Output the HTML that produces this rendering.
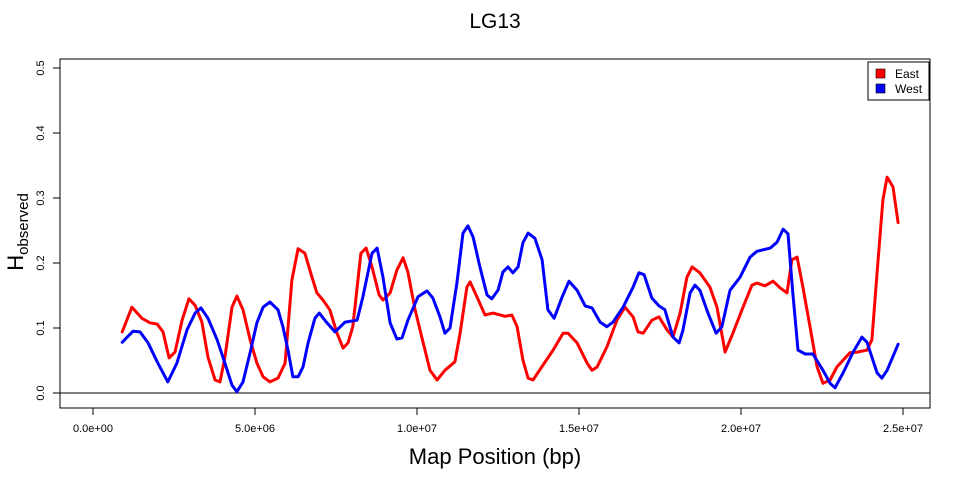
<!DOCTYPE html>
<html><head><meta charset="utf-8"><style>
body{margin:0;background:#fff;}
svg text{font-family:"Liberation Sans",Arial,sans-serif;}
</style></head><body>
<svg id="chart" width="960" height="480" viewBox="0 0 960 480" xmlns="http://www.w3.org/2000/svg">
<rect width="960" height="480" fill="#fff"/>
<text x="495" y="28" font-size="21" text-anchor="middle">LG13</text>
<rect x="60" y="59" width="870" height="349" fill="none" stroke="#000" stroke-width="1"/>
<g id="axes"></g>
<g id="series"></g>
<text x="495" y="464" font-size="22" text-anchor="middle">Map Position (bp)</text>
<text transform="translate(23,232) rotate(-90)" font-size="22" text-anchor="middle">H<tspan font-size="15" dy="5">observed</tspan></text>
<g>
<rect x="868" y="62" width="61" height="38" fill="#fff" stroke="#000" stroke-width="1"/>
<rect x="876" y="69" width="9" height="9" fill="#ff0000" stroke="#000" stroke-width="0.6"/>
<text x="895" y="78" font-size="12">East</text>
<rect x="876" y="84" width="9" height="9" fill="#0000ff" stroke="#000" stroke-width="0.6"/>
<text x="895" y="93" font-size="12">West</text>
</g>
</svg>
<script>
const xTicks=[0,5e6,1e7,1.5e7,2e7,2.5e7];
const xTickLabels=["0.0e+00","5.0e+06","1.0e+07","1.5e+07","2.0e+07","2.5e+07"];
const yTicks=[0,0.1,0.2,0.3,0.4,0.5];
const yTickLabels=["0.0","0.1","0.2","0.3","0.4","0.5"];
const eastPos=[.90,1.20,1.51,1.76,1.98,2.16,2.35,2.53,2.75,2.96,3.15,3.36,3.55,3.77,3.92,4.07,4.29,4.44,4.63,4.85,5.06,5.25,5.46,5.71,5.93,6.14,6.33,6.54,6.76,6.91,7.10,7.31,7.53,7.72,7.87,8.02,8.27,8.43,8.61,8.83,8.95,9.17,9.38,9.57,9.72,9.94,10.19,10.40,10.62,10.86,11.17,11.33,11.54,11.64,11.85,12.10,12.35,12.72,12.93,13.09,13.27,13.43,13.58,13.89,14.20,14.51,14.66,14.94,15.25,15.40,15.56,15.86,16.17,16.42,16.67,16.82,16.98,17.25,17.47,17.72,17.90,18.12,18.33,18.49,18.73,19.04,19.26,19.51,19.75,20.03,20.34,20.49,20.74,20.99,21.20,21.42,21.57,21.73,21.91,22.13,22.35,22.53,22.75,22.96,23.36,23.58,23.89,24.04,24.23,24.38,24.51,24.69,24.85];
const eastH=[.094,.132,.115,.108,.106,.094,.054,.063,.112,.145,.135,.109,.055,.020,.017,.055,.132,.149,.128,.082,.046,.025,.017,.023,.046,.174,.222,.215,.178,.154,.143,.128,.092,.069,.077,.102,.215,.223,.194,.151,.143,.154,.189,.208,.186,.128,.077,.035,.020,.035,.048,.092,.163,.171,.148,.120,.123,.118,.120,.102,.051,.023,.020,.043,.066,.092,.092,.077,.046,.035,.040,.071,.112,.132,.117,.094,.092,.112,.117,.097,.086,.123,.178,.194,.185,.163,.132,.063,.092,.128,.166,.169,.165,.172,.162,.154,.205,.209,.163,.102,.040,.015,.020,.040,.062,.063,.066,.082,.205,.297,.332,.317,.262];
const westPos=[.90,1.23,1.45,1.70,1.98,2.31,2.59,2.90,3.15,3.33,3.55,3.83,4.07,4.29,4.44,4.63,4.85,5.06,5.25,5.46,5.71,5.86,6.02,6.17,6.33,6.48,6.64,6.85,6.98,7.22,7.47,7.78,8.15,8.33,8.61,8.77,8.95,9.17,9.38,9.54,9.72,10.03,10.31,10.49,10.71,10.86,11.02,11.23,11.42,11.57,11.73,11.94,12.16,12.31,12.50,12.65,12.81,12.96,13.12,13.27,13.43,13.64,13.86,14.04,14.23,14.48,14.69,14.94,15.19,15.40,15.65,15.86,16.05,16.36,16.67,16.85,17.01,17.25,17.47,17.65,17.90,18.09,18.21,18.43,18.58,18.73,18.98,19.23,19.41,19.66,19.97,20.28,20.49,20.90,21.11,21.30,21.45,21.60,21.76,21.98,22.22,22.53,22.75,22.90,23.15,23.46,23.73,23.89,24.20,24.35,24.51,24.85];
const westH=[.078,.095,.094,.077,.048,.017,.046,.097,.123,.131,.115,.082,.046,.012,.002,.017,.062,.108,.132,.140,.128,.102,.066,.025,.025,.040,.077,.115,.123,.108,.094,.109,.112,.148,.215,.223,.178,.108,.083,.085,.112,.148,.157,.146,.117,.092,.100,.169,.246,.257,.240,.194,.151,.145,.158,.186,.194,.185,.194,.231,.246,.238,.205,.128,.115,.148,.172,.158,.134,.131,.109,.102,.109,.132,.163,.185,.182,.146,.134,.128,.086,.077,.097,.154,.166,.158,.123,.092,.102,.158,.178,.209,.218,.223,.232,.252,.245,.154,.066,.060,.060,.035,.015,.008,.031,.063,.086,.078,.031,.023,.035,.075];

const NS="http://www.w3.org/2000/svg";
function xScale(bp){return 93+bp/1e6*32.4;}
function yScale(h){return 393-h*650;}
const axes=document.getElementById('axes');
function mk(tag,attrs,parent){const e=document.createElementNS(NS,tag);for(const k in attrs)e.setAttribute(k,attrs[k]);parent.appendChild(e);return e;}
mk('line',{x1:xScale(xTicks[0]),x2:xScale(xTicks[xTicks.length-1]),y1:408,y2:408,stroke:'#000'},axes);
xTicks.forEach((t,i)=>{
  const l=mk('line',{x1:xScale(t),x2:xScale(t),y1:408,y2:415,stroke:'#000'},axes);
  
  
  const tx=mk('text',{x:xScale(t),y:432,'font-size':11,'text-anchor':'middle'},axes);
  tx.textContent=xTickLabels[i];
  
  
});
mk('line',{x1:60,x2:60,y1:yScale(yTicks[0]),y2:yScale(yTicks[yTicks.length-1]),stroke:'#000'},axes);
yTicks.forEach((t,i)=>{
  const l=mk('line',{x1:53,x2:60,y1:yScale(t),y2:yScale(t),stroke:'#000'},axes);
  
  
  const tx=mk('text',{transform:`translate(44,${yScale(t)}) rotate(-90)`,'font-size':11,'text-anchor':'middle'},axes);
  tx.textContent=yTickLabels[i];
  
  
});
const zl=mk('line',{x1:60,x2:930,y1:yScale(0),y2:yScale(0),stroke:'#000'},axes);


const series=document.getElementById('series');
function drawLine(pos,vals,color,name){
  const d=pos.map((p,i)=>(i?'L':'M')+xScale(p*1e6).toFixed(1)+' '+yScale(vals[i]).toFixed(1)).join(' ');
  const path=mk('path',{d:d,fill:'none',stroke:color,'stroke-width':3,'stroke-linejoin':'round','stroke-linecap':'round'},series);
  
  
}
drawLine(eastPos,eastH,'#ff0000','east-line');
drawLine(westPos,westH,'#0000ff','west-line');
</script>
</body></html>
